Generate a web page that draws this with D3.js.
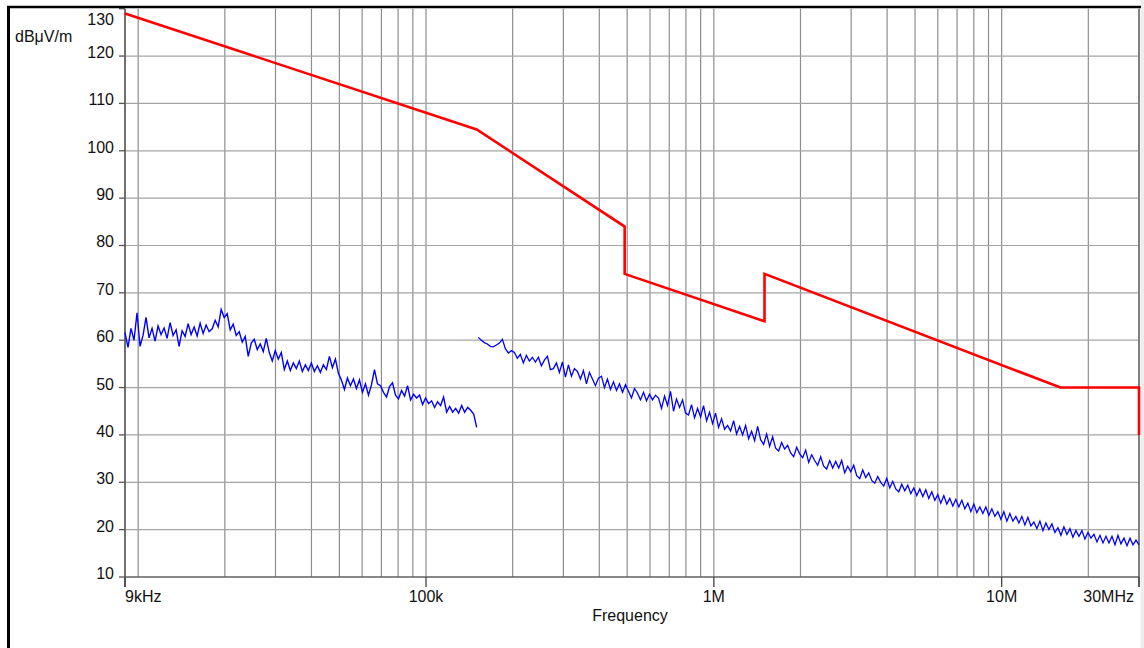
<!DOCTYPE html>
<html><head><meta charset="utf-8">
<script src="https://cdn.jsdelivr.net/npm/d3@7"></script>
<style>
body{margin:0;background:#fff;}
svg{display:block;font-family:"Liberation Sans",Arial,sans-serif;}
</style>
</head><body>
<svg id="c" width="1144" height="648"></svg>
<script>
// ---- data ----
const yTickValues = [10,20,30,40,50,60,70,80,90,100,110,120,130];
const xTickValues = [9000,100000,1000000,10000000,30000000];
const xTickLabels = ["9kHz","100k","1M","10M","30MHz"];
const yUnit = "dBμV/m";
const xTitle = "Frequency";

const limitFreq  = [9000,150000,490000,490000,1500000,1500000,16000000,30000000,30000000];
const limitLevel = [129,104.5,84,74,64,74,50,50,40];

const scanAStart = 9000, scanAStop = 150000;
const scanALevel = [61.6,58.5,62.5,60,65.8,58.7,61,64.8,60.5,62.5,59.8,63,61.2,62.6,60.4,63.7,61,62.2,58.7,62,
60.8,63.5,61.2,62.8,60.9,63.6,61.4,63.2,61.8,62.4,64.2,62.8,66.5,64.8,65.6,62.2,63.4,61,61.8,59.6,
60.8,56.6,59.4,60.2,58,59.2,57.6,60.4,57.4,55.6,57.8,56,57.4,53.8,55.6,53.6,55.2,54,55.6,53.4,
54.8,53.6,55.2,53.4,54.6,53.2,54.8,53.8,56.6,54.2,56,53,51.6,49.6,52,50.4,51.8,49.8,51.6,49,
50.8,48.4,50.6,53.8,50.8,50.4,49,48,50.2,51,48.4,47.6,49.4,48.2,50.4,47.4,48.6,47.8,48.4,46.4,
47.8,46.6,47.2,45.8,47,46.2,48,44.8,46,44.8,45.6,44.6,46.2,44.8,45.8,45.2,44.4,41.6];

const scanBStart = 152000, scanBStop = 30000000;
const scanBLevel = [60.6,60,59.5,59.2,58.7,58.6,59,59.4,60.2,58.2,57.3,57.8,57.4,56.2,57,55.2,56.8,55.6,56.4,55.4,
56.4,54.6,55.8,56.6,53.8,54.0,55.2,53.2,55.4,52.2,
54.8,52.4,54.0,53.4,51.8,53.6,50.8,53.2,51.8,50.4,
52.0,52.4,50.0,51.8,49.6,51.2,49.4,50.8,49.0,50.6,
49.2,47.8,49.8,48.8,47.4,49.0,47.2,48.6,47.4,48.4,
47.8,45.6,48.2,46.2,49.2,45.0,47.6,45.8,47.4,44.6,
44.2,46.4,43.6,45.6,43.8,46.2,43.0,44.8,42.4,44.6,
41.6,43.4,41.2,42.0,40.8,43.0,40.2,41.8,40.0,42.0,
39.2,40.8,38.8,41.8,39.0,38.0,40.2,37.6,39.6,37.2,
36.6,38.4,37.0,37.8,36.2,35.4,37.4,36.0,35.2,36.8,
34.2,35.8,34.6,33.6,35.4,33.4,32.8,34.6,33.0,34.4,
33.0,34.6,32.0,33.4,32.2,33.6,31.4,30.8,32.6,31.0,
32.0,30.4,29.8,31.2,30.0,29.2,30.8,28.8,30.2,28.6,
28.0,29.6,28.2,29.4,27.6,28.8,27.2,28.6,27.0,28.4,
26.6,28.0,26.2,27.4,25.6,27.2,25.4,26.6,25.0,26.4,
24.8,26.2,24.4,25.6,23.8,25.4,23.6,24.8,23.4,24.8,
23.0,24.4,22.8,23.8,22.2,23.8,21.8,23.4,21.8,22.8,
21.4,22.8,21.0,22.6,20.8,21.6,20.2,21.8,19.8,21.4,
20.0,21.2,19.4,20.4,18.8,20.6,19.0,20.2,18.4,19.8,
18.6,19.8,18.0,19.4,18.2,19.0,17.4,18.8,17.2,18.6,
17.2,18.6,16.8,18.8,17.0,18.2,16.6,18.2,16.8,17.8,16.8];

// ---- build ----
function sweep(start, stop, levels){
  const n = levels.length;
  return levels.map((v,i)=>({f: start*Math.pow(stop/start, i/(n-1)), v}));
}
const scanA = sweep(scanAStart, scanAStop, scanALevel);
const scanB = sweep(scanBStart, scanBStop, scanBLevel);
const limit = limitFreq.map((f,i)=>({f, v: limitLevel[i]}));

const svg = d3.select("#c");
const x = d3.scaleLog().domain([9000,30000000]).range([125,1139]);
const y = d3.scaleLinear().domain([10,130]).range([577,8.7]);

// grid
const gridX = [];
[1e4,1e5,1e6,1e7].forEach(d=>{ for(let m=1;m<=9;m++){ const f=d*m; if(f>9000 && f<30000000) gridX.push(f);} });
svg.append("g").selectAll("line").data(gridX).join("line")
  .attr("x1",d=>x(d)).attr("x2",d=>x(d)).attr("y1",y(130)).attr("y2",y(10))
  .attr("stroke","#8e8e8e").attr("stroke-width",1.2);
svg.append("g").selectAll("line").data(yTickValues.filter(v=>v>10&&v<130)).join("line")
  .attr("x1",x(9000)).attr("x2",x(30000000)).attr("y1",d=>y(d)).attr("y2",d=>y(d))
  .attr("stroke","#a4a4a4").attr("stroke-width",1.2);

// axes lines
svg.append("line").attr("x1",x(9000)).attr("x2",x(9000)).attr("y1",y(130)).attr("y2",587)
  .attr("stroke","#707070").attr("stroke-width",2);
svg.append("line").attr("x1",x(30000000)).attr("x2",x(30000000)).attr("y1",y(130)).attr("y2",587)
  .attr("stroke","#808080").attr("stroke-width",2);
svg.append("line").attr("x1",x(9000)).attr("x2",x(30000000)).attr("y1",y(10)).attr("y2",y(10))
  .attr("stroke","#606060").attr("stroke-width",1.5);
svg.append("rect").attr("x",1140.5).attr("y",0).attr("width",4).attr("height",648).attr("fill","#eeeeee");

// y ticks
const yt = svg.append("g");
yt.selectAll("line").data(yTickValues).join("line")
  .attr("x1",119).attr("x2",125).attr("y1",d=>y(d)).attr("y2",d=>y(d))
  .attr("stroke","#555").attr("stroke-width",1.3);
yt.selectAll("text").data(yTickValues).join("text")
  .attr("x",114).attr("y",d=>Math.max(y(d)+2,25)).attr("text-anchor","end")
  .attr("font-size",16).attr("fill","#111").text(d=>d);

// x ticks
const xt = svg.append("g");
xt.selectAll("line").data(xTickValues).join("line")
  .attr("x1",d=>x(d)).attr("x2",d=>x(d)).attr("y1",577).attr("y2",587)
  .attr("stroke","#444").attr("stroke-width",1.3);
xt.selectAll("text").data(xTickValues).join("text")
  .attr("x",(d,i)=> i===0 ? x(d) : (i===xTickValues.length-1 ? x(d)-5 : x(d)))
  .attr("y",602)
  .attr("text-anchor",(d,i)=> i===0 ? "start" : (i===xTickValues.length-1 ? "end" : "middle"))
  .attr("font-size",16).attr("fill","#111").text((d,i)=>xTickLabels[i]);

svg.append("text").attr("x",630).attr("y",621).attr("text-anchor","middle")
  .attr("font-size",16).attr("fill","#111").text(xTitle);
svg.append("text").attr("x",15).attr("y",42).attr("font-size",16).attr("fill","#111").text(yUnit);

// series
const line = d3.line().x(d=>x(d.f)).y(d=>y(d.v));
svg.append("path").datum(scanA).attr("d",line).attr("fill","none").attr("stroke","#0000ff").attr("stroke-width",1.4);
svg.append("path").datum(scanB).attr("d",line).attr("fill","none").attr("stroke","#0000ff").attr("stroke-width",1.3);
svg.append("path").datum(limit).attr("d",line).attr("fill","none").attr("stroke","#ff0000").attr("stroke-width",2.6);

// frame
svg.append("line").attr("x1",7).attr("x2",1141).attr("y1",7).attr("y2",7).attr("stroke","#000").attr("stroke-width",2.5);
svg.append("line").attr("x1",8.5).attr("x2",8.5).attr("y1",6).attr("y2",648).attr("stroke","#000").attr("stroke-width",3);
</script>
</body></html>
